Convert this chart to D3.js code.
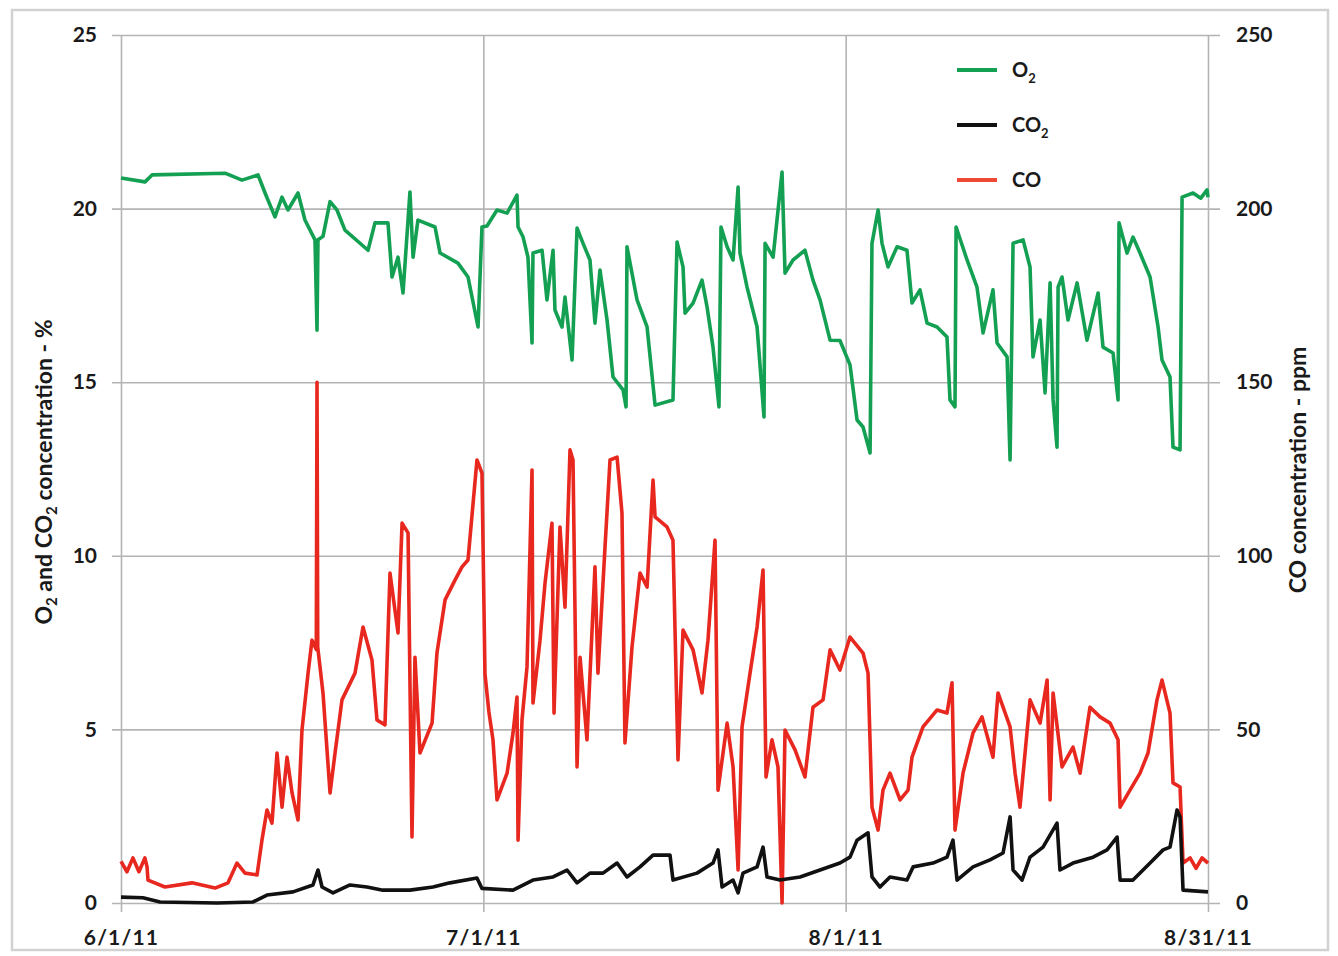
<!DOCTYPE html>
<html>
<head>
  <meta charset='utf-8' />
  <title>O2, CO2 and CO concentration</title>
  <style>
    body { margin: 0; background: #fff; }
    svg text { font-family: Lato, 'Open Sans', sans-serif; font-weight: bold; fill: #1a1a1a; }
    .grid line { stroke: #b4b4b4; stroke-width: 1.6; }
  </style>
</head>
<body>
<div id="chart"></div>
<script src='https://d3js.org/d3.v7.min.js' charset='utf-8'></script>
<script>
  // days counted from 6/1/11
  const o2Days = [0, 2.01, 2.6, 8.71, 10.13, 11.47, 12.06, 12.89, 13.48, 13.98, 14.82, 15.4, 16.24, 16.41, 16.49, 16.91,
    17.5, 18.08, 18.75, 20.68, 21.26, 22.35, 22.69, 23.19, 23.61, 24.19, 24.45, 24.86, 26.29, 26.71, 28.21, 29.05,
    29.89, 30.22, 30.64, 31.48, 32.32, 33.15, 33.24, 33.66, 34.07, 34.41, 34.49, 35.25, 35.66, 36.17, 36.33, 36.92,
    37.17, 37.76, 38.18, 38.68, 39.26, 39.68, 40.1, 40.69, 41.19, 42.03, 42.28, 42.36, 43.2, 44.04, 44.71, 46.21,
    46.55, 47.05, 47.22, 47.89, 48.64, 49.06, 49.56, 50.06, 50.23, 50.74, 51.24, 51.66, 51.82, 52.41, 53.25, 53.83,
    53.92, 54.59, 55.34, 55.59, 56.26, 57.26, 57.93, 58.52, 59.36, 60.19, 61.03, 61.62, 62.12, 62.71, 62.87, 63.38,
    63.71, 64.21, 64.97, 65.8, 66.22, 66.89, 67.48, 68.32, 69.15, 69.4, 69.82, 69.91, 70.83, 71.66, 72.17, 73.0,
    73.34, 74.18, 74.43, 74.68, 75.52, 76.1, 76.35, 76.94, 77.36, 77.78, 78.03, 78.36, 78.45, 78.78, 79.28, 80.04,
    80.87, 81.8, 82.21, 83.05, 83.47, 83.55, 84.22, 84.72, 85.31, 86.15, 86.82, 87.15, 87.82, 88.07, 88.66, 88.83,
    89.75, 90.4, 90.92, 91]
  const o2Values = [20.88, 20.77, 20.97, 21.02, 20.82, 20.97, 20.45, 19.76, 20.33, 19.96, 20.45, 19.67, 19.1, 16.5, 19.1, 19.2,
    20.2, 19.96, 19.38, 18.8, 19.59, 19.59, 18.03, 18.6, 17.57, 20.48, 18.6, 19.67, 19.47, 18.72, 18.43, 18.03,
    16.59, 19.47, 19.5, 19.96, 19.87, 20.39, 19.47, 19.18, 18.6, 16.13, 18.72, 18.8, 17.37, 18.8, 17.08, 16.59,
    17.45, 15.64, 19.44, 19.0, 18.52, 16.7, 18.23, 16.79, 15.15, 14.78, 14.29, 18.9, 17.37, 16.59, 14.34, 14.49,
    19.04, 18.32, 16.99, 17.28, 17.94, 17.17, 16.01, 14.29, 19.47, 18.9, 18.52, 20.62, 18.72, 17.74, 16.59, 14.0,
    19.0, 18.6, 21.05, 18.14, 18.52, 18.8, 17.94, 17.37, 16.21, 16.2, 15.5, 13.91, 13.71, 12.96, 19.0, 19.96,
    19.0, 18.32, 18.9, 18.8, 17.28, 17.66, 16.7, 16.59, 16.3, 14.49, 14.29, 19.47, 18.52, 17.74, 16.42, 17.66,
    16.13, 15.73, 12.76, 19.0, 19.1, 18.32, 15.73, 16.79, 14.69, 17.86, 14.49, 13.13, 17.74, 18.03, 16.79, 17.86,
    16.21, 17.57, 16.01, 15.84, 14.49, 19.59, 18.72, 19.18, 18.72, 18.03, 16.59, 15.64, 15.15, 13.13, 13.05, 20.33,
    20.45, 20.3, 20.54, 20.33]

  const co2Days = [0, 1.84, 3.27, 8.04, 11.05, 12.22, 14.4, 16.07, 16.49, 16.83, 17.75, 19.17, 20.59, 21.93, 24.19, 26.12,
    27.54, 29.8, 30.22, 32.82, 34.49, 36.17, 37.34, 38.18, 39.26, 40.35, 41.53, 42.36, 43.45, 44.54, 45.96, 46.21,
    48.22, 49.56, 49.98, 50.32, 51.24, 51.66, 52.07, 53.25, 53.75, 54.08, 55.17, 56.85, 58.52, 60.19, 61.03, 61.62,
    62.54, 62.87, 63.54, 64.38, 65.8, 66.31, 67.98, 69.15, 69.65, 69.99, 71.33, 72.75, 73.84, 74.43, 74.68, 75.43,
    76.1, 77.19, 78.36, 78.61, 79.7, 81.38, 82.55, 83.39, 83.64, 84.72, 86.15, 87.24, 87.82, 88.41, 88.66, 88.91, 91]
  const co2Values = [0.17, 0.15, 0.03, 0.0, 0.03, 0.23, 0.32, 0.52, 0.95, 0.46, 0.29, 0.52, 0.46, 0.37, 0.37, 0.46,
    0.58, 0.72, 0.42, 0.37, 0.66, 0.75, 0.95, 0.58, 0.86, 0.86, 1.15, 0.75, 1.04, 1.38, 1.38, 0.66,
    0.86, 1.15, 1.53, 0.46, 0.66, 0.29, 0.86, 1.04, 1.61, 0.75, 0.66, 0.75, 0.95, 1.15, 1.32, 1.81,
    2.02, 0.75, 0.46, 0.75, 0.66, 1.04, 1.15, 1.32, 1.81, 0.66, 1.04, 1.24, 1.44, 2.48, 0.95, 0.66,
    1.32, 1.61, 2.3, 0.95, 1.15, 1.32, 1.53, 1.9, 0.66, 0.66, 1.15, 1.53, 1.61, 2.68, 2.48, 0.37, 0.32]

  const coDays = [0, 0.5, 1.0, 1.5, 2.0, 2.18, 2.26, 3.68, 5.94, 7.87, 8.96, 9.71, 10.38, 11.39, 11.8, 12.22, 12.64,
    13.06, 13.48, 13.9, 14.32, 14.82, 15.15, 15.66, 15.99, 16.35, 16.41, 16.47, 16.91, 17.5, 17.92, 18.5, 19.59,
    20.26, 21.01, 21.43, 22.1, 22.52, 23.19, 23.53, 24.03, 24.36, 24.61, 25.03, 26.04, 26.45, 27.13, 27.96, 28.55,
    29.05, 29.8, 30.22, 30.47, 30.8, 31.14, 31.48, 32.32, 32.82, 33.15, 33.24, 33.57, 33.99, 34.41, 34.49, 35.08,
    35.5, 36.08, 36.25, 36.75, 37.17, 37.59, 37.84, 38.18, 38.43, 39.01, 39.68, 39.93, 40.52, 40.94, 41.53, 41.94,
    42.19, 42.78, 43.45, 44.04, 44.54, 44.71, 45.71, 46.21, 46.63, 47.05, 47.89, 48.64, 49.14, 49.73, 49.98, 50.74,
    51.24, 51.66, 51.99, 52.66, 53.25, 53.75, 54.0, 54.5, 55.0, 55.34, 55.59, 56.43, 57.26, 57.93, 58.77, 59.36,
    60.19, 61.03, 62.12, 62.54, 62.87, 63.38, 63.79, 64.38, 65.22, 65.89, 66.22, 67.14, 68.32, 69.15, 69.57, 69.82,
    70.49, 71.33, 72.08, 73.0, 73.42, 74.43, 74.85, 75.26, 76.1, 76.94, 77.53, 77.78, 78.03, 78.78, 79.7, 80.29,
    81.12, 81.96, 82.8, 83.47, 83.64, 84.47, 85.31, 85.98, 86.73, 87.15, 87.82, 88.07, 88.66, 88.91, 89.5, 90.0,
    90.5, 91]
  const coValues = [12, 9, 13, 9, 13, 10.4, 6.6, 4.6, 5.8, 4.3, 5.8, 11.5, 8.6, 8.1, 18.1, 26.8, 23.0,
    43.2, 27.6, 42.0, 31.7, 23.9, 49.8, 66.2, 75.7, 73, 150, 73.7, 60.5, 31.7, 43.2, 58.5, 66.2,
    79.5, 70.0, 52.7, 51.3, 95.0, 77.8, 109.4, 106.6, 19.0, 70.8, 43.2, 51.8, 72.0, 87.3, 93.0, 96.8,
    98.8, 127.6, 123.8, 66, 55, 47, 29.7, 37.4, 49, 59.3, 18.1, 52.7, 68, 124.7, 57.6, 75.7,
    92.2, 109.4, 54.7, 108.3, 85.2, 130.5, 127.6, 39.2, 70.8, 47, 96.8, 66.2, 102.5, 127.6, 128.4, 112.3,
    46.1, 73.7, 95, 91, 121.8, 111.2, 108.3, 104.5, 41.2, 78.6, 72.9, 60.5, 75.7, 104.5, 32.5, 51.8,
    39.2, 9.5, 50.7, 66.2, 79.5, 95.9, 36.3, 47, 39.2, 0, 49.8, 44.1, 36.3, 56.4, 58.5, 72.9,
    67.1, 76.6, 72, 66.2, 27.6, 21, 32.5, 37.4, 29.7, 32.5, 42, 50.7, 55.6, 54.7, 63.4, 21,
    37.4, 49, 53.6, 42, 60.5, 50.7, 37.4, 27.6, 58.5, 51.8, 64.2, 29.7, 60.5, 39.2, 44.9, 37.4,
    56.4, 53.6, 51.8, 47, 27.6, 32.5, 37.4, 43.2, 58.5, 64.2, 54.7, 34.6, 33.4, 11.5, 13, 10,
    13, 11.5]

  const leftTicks = [0, 5, 10, 15, 20, 25]
  const rightTicks = [0, 50, 100, 150, 200, 250]
  const dateLabels = ['6/1/11', '7/1/11', '8/1/11', '8/31/11']

  const svg = d3.select('#chart')
    .append('svg')
      .attr('width', 1338)
      .attr('height', 956)

  // outer frame
  svg.append('rect')
    .attr('x', 12).attr('y', 10)
    .attr('width', 1316).attr('height', 940)
    .attr('fill', 'none')
    .attr('stroke', '#d2d2d2')
    .attr('stroke-width', 2.5)

  const plotL = 121, plotR = 1208, plotT = 35, plotB = 903

  const x = d3.scaleLinear().domain([0, 91]).range([plotL, plotR])
  const yLeft = d3.scaleLinear().domain([0, 25]).range([plotB, plotT])
  const yRight = d3.scaleLinear().domain([0, 250]).range([plotB, plotT])

  // date axis: Excel spaces the major units evenly
  const xTicks = dateLabels.map((d, i) => i * 91 / 3)

  svg.append('g')
    .attr('class', 'grid')
    .attr('transform', `translate(0,${plotB + 9})`)
    .call(d3.axisBottom(x)
      .tickValues(xTicks)
      .tickSize(-(plotB + 9 - plotT))
      .tickPadding(18)
      .tickFormat((d, i) => dateLabels[i]))
    .call(g => g.select('.domain').remove())
    .selectAll('text')
      .style('font-size', '21px')
      .style('letter-spacing', '1.2px')

  svg.append('g')
    .attr('class', 'grid')
    .attr('transform', `translate(${plotL - 9},0)`)
    .call(d3.axisLeft(yLeft)
      .tickValues(leftTicks)
      .tickSize(-(plotR + 12 - plotL + 9))
      .tickPadding(15))
    .call(g => g.select('.domain').remove())
    .selectAll('text')
      .style('font-size', '21px')

  svg.append('g')
    .attr('transform', `translate(${plotR + 12},0)`)
    .call(d3.axisRight(yRight)
      .tickValues(rightTicks)
      .tickSize(0)
      .tickPadding(16))
    .call(g => g.select('.domain').remove())
    .selectAll('text')
      .style('font-size', '21px')

  // series
  const lineLeft = d3.line().x(d => x(d[0])).y(d => yLeft(d[1]))
  const lineRight = d3.line().x(d => x(d[0])).y(d => yRight(d[1]))

  const series = [
    { name: 'CO', pts: d3.zip(coDays, coValues), line: lineRight, color: '#e8281f' },
    { name: 'CO2', pts: d3.zip(co2Days, co2Values), line: lineLeft, color: '#111111' },
    { name: 'O2', pts: d3.zip(o2Days, o2Values), line: lineLeft, color: '#14a052' }
  ]

  svg.selectAll('path.series')
    .data(series)
    .enter()
    .append('path')
      .attr('class', 'series')
      .attr('fill', 'none')
      .attr('stroke', d => d.color)
      .attr('stroke-width', 3.6)
      .attr('stroke-linejoin', 'round')
      .attr('d', d => d.line(d.pts))

  // legend
  const legend = [
    { label: 'O', sub: '2', color: '#14a052' },
    { label: 'CO', sub: '2', color: '#111111' },
    { label: 'CO', sub: '', color: '#ee4a35' }
  ]
  const lg = svg.selectAll('g.legend')
    .data(legend)
    .enter()
    .append('g')
      .attr('class', 'legend')
      .attr('transform', (d, i) => `translate(957,${70 + i * 55})`)
  lg.append('line')
    .attr('x1', 0).attr('x2', 40)
    .attr('stroke', d => d.color)
    .attr('stroke-width', 4)
  const lt = lg.append('text')
    .attr('x', 55)
    .attr('dy', '0.35em')
    .style('font-size', '20px')
  lt.append('tspan').text(d => d.label)
  lt.append('tspan')
    .attr('dy', 6)
    .style('font-size', '13px')
    .text(d => d.sub)

  // axis titles
  const lTitle = svg.append('text')
    .attr('transform', 'translate(52,472) rotate(-90)')
    .attr('text-anchor', 'middle')
    .style('font-size', '23px')
  lTitle.append('tspan').text('O')
  lTitle.append('tspan').attr('dy', 5).style('font-size', '15px').text('2')
  lTitle.append('tspan').attr('dy', -5).text(' and CO')
  lTitle.append('tspan').attr('dy', 5).style('font-size', '15px').text('2')
  lTitle.append('tspan').attr('dy', -5).text(' concentration - %')

  svg.append('text')
    .attr('transform', 'translate(1306,470) rotate(-90)')
    .attr('text-anchor', 'middle')
    .style('font-size', '23px')
    .text('CO concentration - ppm')
</script>
</body>
</html>
